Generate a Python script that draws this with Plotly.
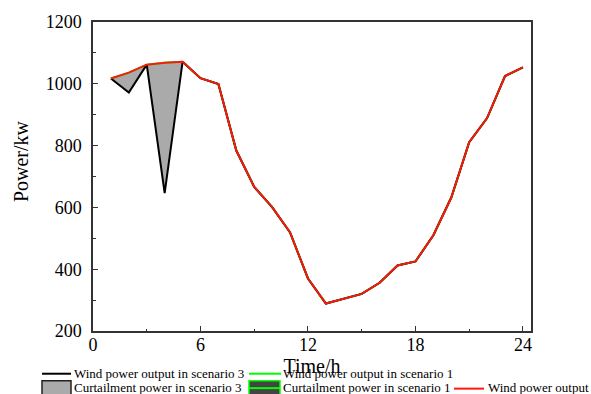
import plotly.graph_objects as go

hours = list(range(1, 25))
wind_forecast = [1017, 1036, 1062, 1068, 1071, 1018, 999, 784, 666, 601, 519, 370,
                 289, 305, 320, 356, 412, 425, 510, 632, 811, 889, 1025, 1053]
wind_s3 = [1017, 972, 1062, 646, 1071] + wind_forecast[5:]
wind_s1 = list(wind_forecast)

x_ticks = [0, 6, 12, 18, 24]
y_ticks = [200, 400, 600, 800, 1000, 1200]

FONT = "Liberation Serif, Times New Roman, serif"
W, H = 591, 394
L, R, T, B = 93, 60, 20, 63
PW, PH = W - L - R, H - T - B
RED = "#f81a0f"


def px(x):
    return (x - L) / PW


def py(y):
    return (H - B - y) / PH


fig = go.Figure()
# curtailment area in scenario 3 (between scenario-3 output and forecast)
fig.add_trace(go.Scatter(x=hours, y=wind_s3, mode="lines", line=dict(width=0),
                         showlegend=False, hoverinfo="skip"))
fig.add_trace(go.Scatter(x=hours, y=wind_forecast, mode="lines", line=dict(width=0),
                         fill="tonexty", fillcolor="#aaaaaa", showlegend=False,
                         name="Curtailment power in scenario 3"))
fig.add_trace(go.Scatter(x=hours, y=wind_s1, mode="lines",
                         line=dict(color="#00ff00", width=2), showlegend=False,
                         name="Wind power output in scenario 1"))
fig.add_trace(go.Scatter(x=hours, y=wind_s3, mode="lines",
                         line=dict(color="#000000", width=2), showlegend=False,
                         name="Wind power output in scenario 3"))
fig.add_trace(go.Scatter(x=hours, y=wind_forecast, mode="lines",
                         line=dict(color=RED, width=2), showlegend=False,
                         name="Wind power output"))

axis_common = dict(showline=True, linecolor="#333333", linewidth=1.5, mirror=True,
                   ticks="inside", ticklen=5, tickwidth=1.2, tickcolor="#333333",
                   showgrid=False, zeroline=False,
                   tickfont=dict(family=FONT, size=18, color="#000000"))
fig.update_layout(
    xaxis=dict(range=[0, 24.45], tickvals=x_ticks, ticktext=[str(v) for v in x_ticks],
               minor=dict(tickvals=[3, 9, 15, 21], ticks="inside", ticklen=2,
                          tickcolor="#333333"),
               ticklabelstandoff=-3,
               title=dict(text="Time/h", standoff=0,
                          font=dict(family=FONT, size=20, color="#000000")),
               **axis_common),
    yaxis=dict(range=[200, 1200], tickvals=y_ticks, ticktext=[str(v) for v in y_ticks],
               minor=dict(tickvals=[300, 500, 700, 900, 1100], ticks="inside",
                          ticklen=3, tickcolor="#333333"),
               ticklabelstandoff=6, **axis_common),
)

shapes = []
annotations = []


def legend_line(x0, x1, y, color):
    shapes.append(dict(type="line", xref="paper", yref="paper", x0=px(x0), x1=px(x1),
                       y0=py(y), y1=py(y), line=dict(color=color, width=2)))


def legend_box(x0, x1, y0, y1, fill, border, mid=None):
    shapes.append(dict(type="rect", xref="paper", yref="paper", x0=px(x0), x1=px(x1),
                       y0=py(y0), y1=py(y1), fillcolor=fill,
                       line=dict(color=border, width=1.5)))
    if mid:
        legend_line(x0, x1, (y0 + y1) / 2, mid)


def legend_text(x, y, text):
    annotations.append(dict(text=text, xref="paper", yref="paper", x=px(x), y=py(y),
                            xanchor="left", yanchor="middle", showarrow=False,
                            borderpad=0, font=dict(family=FONT, size=13, color="#000000")))


legend_line(42, 71, 374, "#000000")
legend_text(73, 374, "Wind power output in scenario 3")
legend_line(249, 281, 374, "#00ff00")
legend_text(282, 374, "Wind power output in scenario 1")
legend_box(42, 71, 381, 396, "#aaaaaa", "#222222")
legend_text(73, 388, "Curtailment power in scenario 3")
legend_box(249, 280, 381, 396, "#444444", "#00ff00", mid="#00ff00")
legend_text(282, 388, "Curtailment power in scenario 1")
legend_line(454, 484, 389, RED)
legend_text(487, 388, "Wind power output")

annotations.append(dict(text="Power/kw", xref="paper", yref="paper", x=px(21), y=py(160),
                        xanchor="center", yanchor="middle", showarrow=False, textangle=-90,
                        font=dict(family=FONT, size=20, color="#000000")))

fig.update_layout(width=W, height=H, margin=dict(l=L, r=R, t=T, b=B),
                  plot_bgcolor="#ffffff", paper_bgcolor="#ffffff", showlegend=False,
                  shapes=shapes, annotations=annotations)

fig.write_html("out.html")
